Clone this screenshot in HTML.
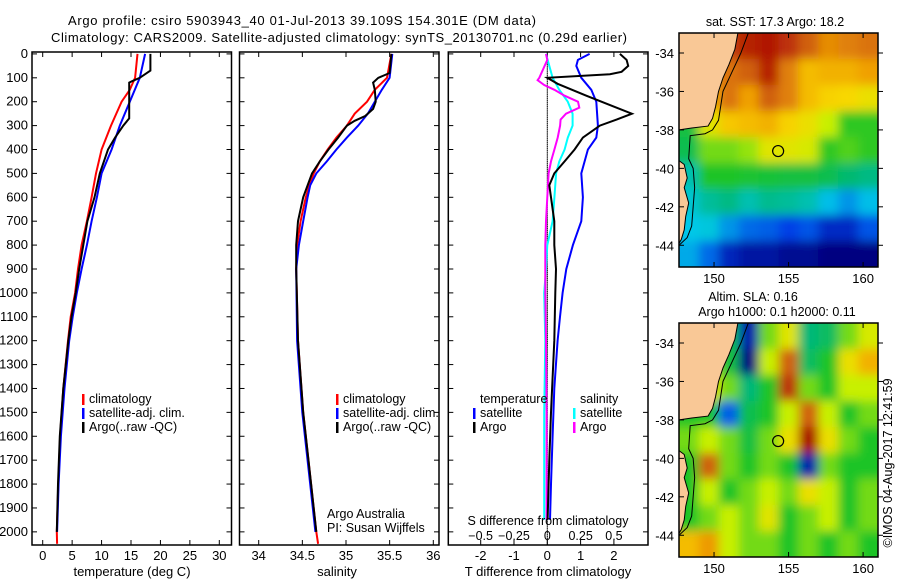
<!DOCTYPE html>
<html><head><meta charset="utf-8"><style>
html,body{margin:0;padding:0;background:#fff;}
svg{display:block;font-family:"Liberation Sans",sans-serif;}
</style></head><body>
<svg id="fig" width="900" height="580" viewBox="0 0 900 580" xmlns="http://www.w3.org/2000/svg">
<defs>
<filter id="blur" filterUnits="userSpaceOnUse" x="600" y="0" width="300" height="580"><feGaussianBlur stdDeviation="5"/></filter>
<clipPath id="clipTop"><rect x="679" y="33" width="199" height="234"/></clipPath>
<clipPath id="clipBot"><rect x="679" y="323" width="199" height="234"/></clipPath>
</defs>
<text x="302" y="25" text-anchor="middle" font-size="13" textLength="468">Argo profile: csiro 5903943_40 01-Jul-2013 39.109S 154.301E (DM data)</text>
<text x="339" y="42" text-anchor="middle" font-size="13" textLength="576">Climatology: CARS2009. Satellite-adjusted climatology: synTS_20130701.nc (0.29d earlier)</text>
<g id="layer"></g>
</svg>
<script>
// ---------- data ----------
const depthTicks=[0,100,200,300,400,500,600,700,800,900,1000,1100,1200,1300,1400,1500,1600,1700,1800,1900,2000];
const tempTicks=[0,5,10,15,20,25,30];
const salTicks=[34,34.5,35,35.5,36];
const dTTicks=[-2,-1,0,1,2];
const dSTicks=[-0.5,-0.25,0,0.25,0.5];

const tClimDepth=[0,100,150,200,300,400,500,600,700,800,900,1000,1100,1200,1400,1600,1800,2000,2050];
const tClimVal=[16.1,15.7,14.8,13.4,11.6,10.0,9.05,8.3,7.5,6.6,6.0,5.5,4.75,4.3,3.5,2.95,2.65,2.4,2.45];
const tSatDepth=[0,100,200,300,400,500,600,700,800,900,1000,1100,1200,1400,1600,1800,2000];
const tSatVal=[17.4,16.5,14.8,13.1,11.7,10.0,9.2,8.3,7.5,6.6,5.8,5.1,4.5,3.7,3.1,2.7,2.45];
const tArgoDepth=[0,70,100,115,120,270,300,350,400,500,600,700,800,900,1000,1100,1200,1400,1600,1800,2000];
const tArgoVal=[18.3,18.3,16.5,15.1,14.7,14.7,13.7,12.3,11.1,9.7,8.8,7.6,6.9,6.2,5.6,4.9,4.35,3.5,2.9,2.6,2.4];

const sClimDepth=[0,100,150,200,250,300,350,400,450,500,550,600,700,800,900,1200,1500,1800,2000,2050];
const sClimVal=[35.52,35.47,35.33,35.24,35.10,35.01,34.89,34.79,34.70,34.63,34.58,34.54,34.48,34.44,34.43,34.45,34.51,34.60,34.66,34.68];
const sSatDepth=[0,100,150,200,250,300,350,400,450,500,550,600,700,800,900,1200,1500,1800,2000];
const sSatVal=[35.53,35.50,35.41,35.33,35.25,35.14,35.01,34.89,34.78,34.66,34.59,34.56,34.51,34.46,34.43,34.44,34.50,34.59,34.65];
const sArgoDepth=[0,80,100,120,150,200,230,260,280,300,350,400,450,500,550,600,700,800,900,1200,1500,1800,2000];
const sArgoVal=[35.52,35.50,35.37,35.31,35.33,35.34,35.31,35.22,35.10,35.01,34.91,34.80,34.70,34.61,34.56,34.51,34.45,34.43,34.43,34.45,34.51,34.60,34.66];

const dTSatDepth=[0,25,50,100,150,200,300,350,400,500,600,700,800,900,1000,1100,1200,1400,1600,1800,1950];
const dTSatVal=[1.27,0.92,0.87,1.02,1.32,1.47,1.52,1.47,1.22,1.02,1.07,1.02,0.77,0.57,0.46,0.38,0.31,0.21,0.16,0.11,0.08];
const dTArgoDepth=[0,25,50,75,85,100,125,175,225,250,275,300,350,400,450,500,550,600,700,800,900,1000,1200,1500,1700,1950];
const dTArgoVal=[2.18,2.38,2.43,2.23,1.88,0.0,0.31,1.17,2.08,2.54,2.08,1.58,1.07,0.82,0.52,0.21,0.06,0.11,0.21,0.21,0.26,0.24,0.21,0.11,0.06,0.01];
const dSSatDepth=[0,50,100,150,200,250,300,350,400,450,500,600,700,800,900,1000,1200,1500,1950];
const dSSatVal=[-0.01,0.015,0.04,0.09,0.154,0.19,0.19,0.154,0.13,0.09,0.066,0.053,0.04,0.0,-0.01,-0.023,-0.015,-0.023,-0.023];
const dSArgoDepth=[0,25,100,110,130,150,175,200,225,250,275,300,350,400,450,500,600,700,800,1000,1200,1500,1950];
const dSArgoVal=[-0.01,0.0,-0.06,-0.073,-0.023,0.053,0.13,0.23,0.24,0.14,0.10,0.096,0.078,0.053,0.028,0.01,0.0,-0.01,-0.015,-0.015,-0.01,-0.005,-0.005];

const lonTicks=[150,155,160];
const latTicks=[-34,-36,-38,-40,-42,-44];
const argoLon=154.3, argoLat=-39.1;
// SST colour-index grid (rows north->south, 10 columns west->east), null = land
const sstGrid=[
[null,null,.9,.95,.97,.92,.85,.78,.8,.82],
[null,.75,.82,.85,.95,.8,.7,.72,.72,.75],
[null,.72,.82,.75,.85,.8,.7,.66,.65,.62],
[.42,.6,.68,.7,.72,.66,.62,.55,.46,.46],
[.4,.5,.5,.52,.6,.6,.58,.46,.48,.46],
[.3,.45,.45,.44,.43,.42,.42,.4,.36,.34],
[.27,.32,.34,.3,.33,.32,.3,.24,.2,.24],
[.25,.26,.2,.16,.15,.12,.14,.08,.08,.14],
[.22,.16,.07,.04,.04,.02,.02,0,0,0]];
const slaGrid=[
[null,.45,.4,.05,.5,.6,.35,.38,.5,.58],
[null,.58,.42,-.05,.55,.85,.38,.45,.62,.72],
[null,.62,.5,.35,.45,.92,.5,.45,.55,.55],
[.45,.45,.15,.4,.45,.55,.85,.55,.45,.5],
[.5,.55,.5,.42,.5,.62,1.0,.62,.5,.45],
[.45,.85,.5,.45,.5,.45,.05,.5,.45,.45],
[.45,.55,.45,.5,.55,.5,.62,.55,.45,.5],
[.45,.5,.55,.5,.6,.45,.5,.55,.45,.5],
[.7,.76,.55,.5,.5,.45,.5,.45,.5,.45]];
const coastLon=[151.6,151.4,151.0,150.6,150.3,150.1,149.9,149.6,148.5,147.65];
const coastLat=[-32.96,-33.8,-34.6,-35.3,-36.0,-36.8,-37.4,-37.8,-37.9,-38.0];
const tasLon=[147.65,148.0,148.2,148.0,148.3,148.1,148.0,147.8,147.65];
const tasLat=[-39.6,-39.8,-40.5,-41.0,-41.8,-42.5,-43.2,-43.7,-43.9];
const shelfLon=[152.3,151.8,151.2,150.6,150.3,149.9,149.4,148.4,148.3,148.6,148.7,148.6,148.5,148.2,147.65];
const shelfLat=[-32.96,-34.0,-35.0,-36.0,-37.5,-38.0,-38.2,-38.3,-39.5,-40.0,-41.0,-42.0,-43.0,-43.6,-44.0];

// ---------- helpers ----------
const NS='http://www.w3.org/2000/svg';
const L=document.getElementById('layer');
function mk(tag,attrs,parent){const e=document.createElementNS(NS,tag);for(const k in attrs)e.setAttribute(k,attrs[k]);(parent||L).appendChild(e);return e;}
function txt(x,y,s,size,anchor,parent){const e=mk('text',{x:x,y:y,'font-size':size||13,'text-anchor':anchor||'middle'},parent);e.textContent=s;return e;}
const Y0=52,Y1=545,DMIN=-8,DMAX=2055;
function yD(d){return Y0+(d-DMIN)/(DMAX-DMIN)*(Y1-Y0);}

function panel(name,x0,x1,xs,ticks,labels,showDepth){
  const g=mk('g',{});
  
  
  const fr=mk('rect',{x:x0,y:Y0,width:x1-x0,height:Y1-Y0,fill:'none',stroke:'#000','stroke-width':1.5},g);
  
  
  depthTicks.forEach(d=>{
    mk('line',{x1:x0,x2:x0+5,y1:yD(d),y2:yD(d),stroke:'#000'},g);
    mk('line',{x1:x1,x2:x1-5,y1:yD(d),y2:yD(d),stroke:'#000'},g);
    if(showDepth){const t=txt(x0-4,yD(d)+4,String(d),13,'end',g);
      
      }
  });
  ticks.forEach((v,i)=>{
    const x=xs(v);
    mk('line',{x1:x,x2:x,y1:Y0,y2:Y0+5,stroke:'#000'},g);
    mk('line',{x1:x,x2:x,y1:Y1,y2:Y1-5,stroke:'#000'},g);
    if(labels){const t=txt(x,Y1+15,labels[i],13,'middle',g);
      
      }
  });
  return g;
}
function line(name,dep,val,xs,color,g){
  const pts=dep.map((d,i)=>xs(val[i]).toFixed(1)+','+yD(d).toFixed(1)).join(' ');
  const p=mk('polyline',{points:pts,fill:'none',stroke:color,'stroke-width':2},g);
  
  
}
function legend(entries,x,y,g){
  entries.forEach((e,i)=>{
    const yy=y+i*14;
    if(e[1]){const m=mk('rect',{x:x,y:yy-9,width:2.5,height:11,fill:e[1]},g);
      
      }
    const t=txt(x+7,yy,e[0],12.5,'start',g);
    
    
  });
}

// ---------- panel 1 temperature ----------
const xT=v=>42.7+v*(219.3-42.7)/30;
const g1=panel('temperature-panel',32,231.5,xT,tempTicks,tempTicks.map(String),true);
line('temp-climatology-line',tClimDepth,tClimVal,xT,'#f00',g1);
line('temp-satellite-line',tSatDepth,tSatVal,xT,'#00f',g1);
line('temp-argo-line',tArgoDepth,tArgoVal,xT,'#000',g1);
legend([['climatology','#f00'],['satellite-adj. clim.','#00f'],['Argo(..raw -QC)','#000']],82,403,g1);
const xl1=txt(132,576,'temperature (deg C)',13,'middle',g1);



// ---------- panel 2 salinity ----------
const xS=v=>258.7+(v-34)*87.3;
const g2=panel('salinity-panel',239.5,439,xS,salTicks,salTicks.map(String),false);
line('sal-climatology-line',sClimDepth,sClimVal,xS,'#f00',g2);
line('sal-satellite-line',sSatDepth,sSatVal,xS,'#00f',g2);
line('sal-argo-line',sArgoDepth,sArgoVal,xS,'#000',g2);
legend([['climatology','#f00'],['satellite-adj. clim.','#00f'],['Argo(..raw -QC)','#000']],336,403,g2);
legend([['Argo Australia',null],['PI: Susan Wijffels',null]],320,518,g2);
const xl2=txt(337,576,'salinity',13,'middle',g2);



// ---------- panel 3 differences ----------
const xdT=v=>547.3+v*33.3;
const xdS=v=>547.3+v*133.3;
const g3=panel('difference-panel',448.3,648,xdT,dTTicks,dTTicks.map(String),false);
for(let d=0;d<2050;d+=8){mk('line',{x1:547.3,x2:547.3,y1:yD(d),y2:yD(d)+1.5,stroke:'#000'},g3);}
line('dS-satellite-line',dSSatDepth,dSSatVal,xdS,'#0ff',g3);
line('dS-argo-line',dSArgoDepth,dSArgoVal,xdS,'#f0f',g3);
line('dT-satellite-line',dTSatDepth,dTSatVal,xdT,'#00f',g3);
line('dT-argo-line',dTArgoDepth,dTArgoVal,xdT,'#000',g3);
legend([['temperature',null],['satellite','#00f'],['Argo','#000']],473,403,g3);
legend([['salinity',null],['satellite','#0ff'],['Argo','#f0f']],573,403,g3);
const s1=txt(548,525,'S difference from climatology',12.5,'middle',g3);


dSTicks.forEach(v=>{const t=txt(xdS(v),540,String(v).replace('-','\u2212'),12.5,'middle',g3);
  
  });
const s2=txt(548,576,'T difference from climatology',13,'middle',g3);



// ---------- maps ----------
const LON0=147.65,LON1=161.0,LAT0=-32.96,LAT1=-45.13;
const cmapV=[0,.12,.25,.35,.45,.55,.65,.75,.85,1];
const cmapC=[[0,0,128],[0,64,230],[0,200,232],[0,184,120],[30,196,40],[200,240,0],[248,216,0],[240,160,0],[208,96,16],[168,0,0]];
function col(v){v=Math.max(0,v);for(let i=1;i<cmapV.length;i++){if(v<=cmapV[i]){const f=(v-cmapV[i-1])/(cmapV[i]-cmapV[i-1]);const a=cmapC[i-1],b=cmapC[i];return 'rgb('+a.map((c,k)=>Math.round(c+(b[k]-c)*f)).join(',')+')';}}return 'rgb(168,0,0)';}
function map(name,top,grid,clip,title){
  const g=mk('g',{});
  
  
  const X=lon=>679+(lon-LON0)/(LON1-LON0)*199;
  const Y=lat=>top+(lat-LAT0)/(LAT1-LAT0)*234;
  const hm=mk('g',{'clip-path':'url(#'+clip+')'},g);
  const inner=mk('g',{filter:'url(#blur)'},hm);
  const nr=grid.length,nc=grid[0].length;
  const cw=(LON1-LON0)/nc,ch=(LAT1-LAT0)/nr;
  grid.forEach((row,r)=>row.forEach((v,c)=>{
    const val=(v===null)?row.find(x=>x!==null):v;
    let x=X(LON0+c*cw),y=Y(LAT0+r*ch),w=199/nc,h=234/nr;
    if(c===0){x-=25;w+=25;} if(c===nc-1){w+=25;}
    if(r===0){y-=25;h+=25;} if(r===nr-1){h+=25;}
    const cell=mk('rect',{x:x,y:y,width:w+0.5,height:h+0.5,fill:col(val)},inner);
    
    
  }));
  let pts=coastLon.map((lo,i)=>X(lo)+','+Y(coastLat[i])).join(' ')+' '+X(LON0-1)+','+Y(coastLat[coastLat.length-1])+' '+X(LON0-1)+','+Y(LAT0+1)+' '+X(coastLon[0])+','+Y(LAT0+1);
  const land=mk('polygon',{points:pts,fill:'#f9c896',stroke:'#000','stroke-width':1},hm);
  
  
  pts=tasLon.map((lo,i)=>X(lo)+','+Y(tasLat[i])).join(' ')+' '+X(LON0-1)+','+Y(-43.9)+' '+X(LON0-1)+','+Y(-39.6);
  const tas=mk('polygon',{points:pts,fill:'#f9c896',stroke:'#000','stroke-width':1},hm);
  
  
  const sh=mk('polyline',{points:shelfLon.map((lo,i)=>X(lo)+','+Y(shelfLat[i])).join(' '),fill:'none',stroke:'#000','stroke-width':1},hm);
  
  
  const mark=mk('circle',{cx:X(argoLon),cy:Y(argoLat),r:5.5,fill:'none',stroke:'#000','stroke-width':1.2},g);
  
  
  const fr=mk('rect',{x:679,y:top,width:199,height:234,fill:'none',stroke:'#000','stroke-width':1.5},g);
  
  
  lonTicks.forEach(lo=>{
    mk('line',{x1:X(lo),x2:X(lo),y1:top+234,y2:top+229,stroke:'#000'},g);
    mk('line',{x1:X(lo),x2:X(lo),y1:top,y2:top+5,stroke:'#000'},g);
    const t=txt(X(lo),top+250,String(lo),13,'middle',g);
    
    
  });
  latTicks.forEach(la=>{
    mk('line',{x1:679,x2:684,y1:Y(la),y2:Y(la),stroke:'#000'},g);
    mk('line',{x1:878,x2:883,y1:Y(la),y2:Y(la),stroke:'#000'},g);
    const t=txt(674,Y(la)+5,String(la),13,'end',g);
    
    
  });
  title.forEach((s,i)=>{const t=txt(s[1],s[2],s[0],12.5,'middle',g);
    
    });
}
map('sst-map',33,sstGrid,'clipTop',[['sat. SST: 17.3 Argo: 18.2',775,26]]);
map('sla-map',323,slaGrid,'clipBot',[['Altim. SLA: 0.16',753,301],['Argo h1000: 0.1 h2000: 0.11',777,316]]);
const stamp=txt(0,0,'\u00A9IMOS 04-Aug-2017 12:41:59',12.5,'middle');
stamp.setAttribute('transform','translate(892,463) rotate(-90)');


</script>
</body></html>
